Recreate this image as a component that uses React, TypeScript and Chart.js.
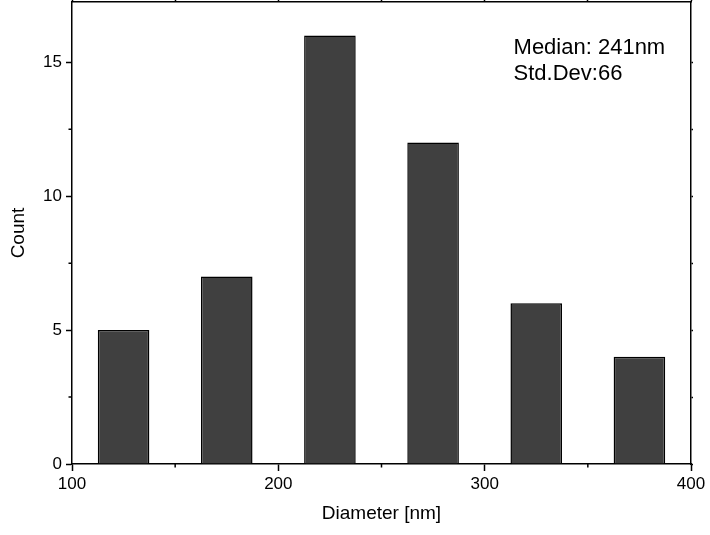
import React, { useEffect, useRef } from "react";
import { Chart, registerables } from "chart.js";

Chart.register(...registerables);

const BIN_CENTERS = [125, 175, 225, 275, 325, 375];
const COUNTS = [5, 7, 16, 12, 6, 4];
const X_MIN = 100;
const X_MAX = 400;
const Y_MIN = 0;
const Y_MAX = 17.25;
const X_MAJOR_STEP = 100;
const Y_MAJOR_STEP = 5;
const X_MINOR = [150, 250, 350];
const Y_MINOR = [2.5, 7.5, 12.5];
const ANNOTATION_LINES = ["Median: 241nm", "Std.Dev:66"];
const ANNOT_X = 314;
const ANNOT_Y = [15.55, 14.55];

const FONT = '"Liberation Sans", Arial, Helvetica, sans-serif';

const extrasPlugin = {
  id: "extras",
  afterDraw(chart: any) {
    const { ctx } = chart;
    const x = chart.scales.x;
    const y = chart.scales.y;
    ctx.save();
    ctx.strokeStyle = "#000";
    ctx.lineWidth = 1.5;
    ctx.beginPath();
    X_MINOR.forEach((v) => {
      const px = x.getPixelForValue(v);
      ctx.moveTo(px, x.top);
      ctx.lineTo(px, x.top + 3.5);
    });
    Y_MINOR.forEach((v) => {
      const py = y.getPixelForValue(v);
      ctx.moveTo(y.right, py);
      ctx.lineTo(y.right - 3.5, py);
    });
    ctx.stroke();
    ctx.fillStyle = "#000";
    ctx.font = `22px ${FONT}`;
    ctx.textBaseline = "middle";
    ctx.textAlign = "left";
    ANNOTATION_LINES.forEach((t, i) => {
      ctx.fillText(t, x.getPixelForValue(ANNOT_X), y.getPixelForValue(ANNOT_Y[i]));
    });
    ctx.restore();
  },
};

const zeroPad = (s: any) => {
  s.paddingTop = 0;
  s.paddingBottom = 0;
  s.paddingLeft = 0;
  s.paddingRight = 0;
};

export default function App() {
  const ref = useRef<HTMLCanvasElement | null>(null);
  useEffect(() => {
    if (!ref.current) return;
    const chart = new Chart(ref.current, {
      type: "bar",
      data: {
        datasets: [
          {
            data: BIN_CENTERS.map((c, i) => ({ x: c, y: COUNTS[i] })),
            backgroundColor: "#404040",
            borderColor: "#000",
            borderWidth: 1.5,
            categoryPercentage: 1,
            barPercentage: 0.5,
          },
        ],
      },
      options: {
        animation: false,
        responsive: false,
        layout: { padding: 0 },
        plugins: { legend: { display: false }, tooltip: { enabled: false } },
        scales: {
          x: {
            type: "linear",
            position: "bottom",
            min: X_MIN,
            max: X_MAX,
            offset: false,
            ticks: {
              stepSize: X_MAJOR_STEP,
              color: "#000",
              font: { family: FONT, size: 17 },
              padding: 3,
              maxRotation: 0,
            },
            grid: {
              offset: false,
              drawOnChartArea: false,
              drawTicks: true,
              tickLength: 7,
              tickColor: "#000",
              tickWidth: 1.5,
            },
            border: { display: true, color: "#000", width: 1.5 },
            title: {
              display: true,
              text: "Diameter [nm]",
              color: "#000",
              font: { family: FONT, size: 19 },
              padding: { top: 0, bottom: 10 },
            },
            afterFit: (s: any) => {
              s.height = 71;
              zeroPad(s);
            },
          },
          x2: {
            type: "linear",
            position: "top",
            min: X_MIN,
            max: X_MAX,
            offset: false,
            ticks: { display: false, stepSize: 50 },
            grid: {
              offset: false,
              drawOnChartArea: false,
              drawTicks: true,
              tickLength: 2,
              tickColor: "#000",
              tickWidth: 1.5,
            },
            border: { display: true, color: "#000", width: 1.5 },
            afterFit: (s: any) => {
              s.height = 2;
              zeroPad(s);
            },
          },
          y: {
            type: "linear",
            position: "left",
            min: Y_MIN,
            max: Y_MAX,
            ticks: {
              stepSize: Y_MAJOR_STEP,
              includeBounds: false,
              color: "#000",
              font: { family: FONT, size: 17 },
              padding: 4,
            },
            grid: {
              drawOnChartArea: false,
              drawTicks: true,
              tickLength: 6,
              tickColor: "#000",
              tickWidth: 1.5,
            },
            border: { display: true, color: "#000", width: 1.5 },
            title: {
              display: true,
              text: "Count",
              color: "#000",
              font: { family: FONT, size: 19 },
              padding: { top: 7, bottom: 0 },
            },
            afterFit: (s: any) => {
              s.width = 72;
              zeroPad(s);
            },
          },
          y2: {
            type: "linear",
            position: "right",
            min: Y_MIN,
            max: Y_MAX,
            ticks: { display: false, stepSize: 2.5, includeBounds: false },
            grid: {
              drawOnChartArea: false,
              drawTicks: true,
              tickLength: 2,
              tickColor: "#000",
              tickWidth: 1.5,
            },
            border: { display: true, color: "#000", width: 1.5 },
            afterFit: (s: any) => {
              s.width = 19;
              zeroPad(s);
            },
          },
        },
      } as any,
      plugins: [extrasPlugin],
    });
    return () => chart.destroy();
  }, []);
  return (
    <canvas
      ref={ref}
      width={710}
      height={535}
      style={{ position: "absolute", left: 0, top: 0, display: "block" }}
    />
  );
}
